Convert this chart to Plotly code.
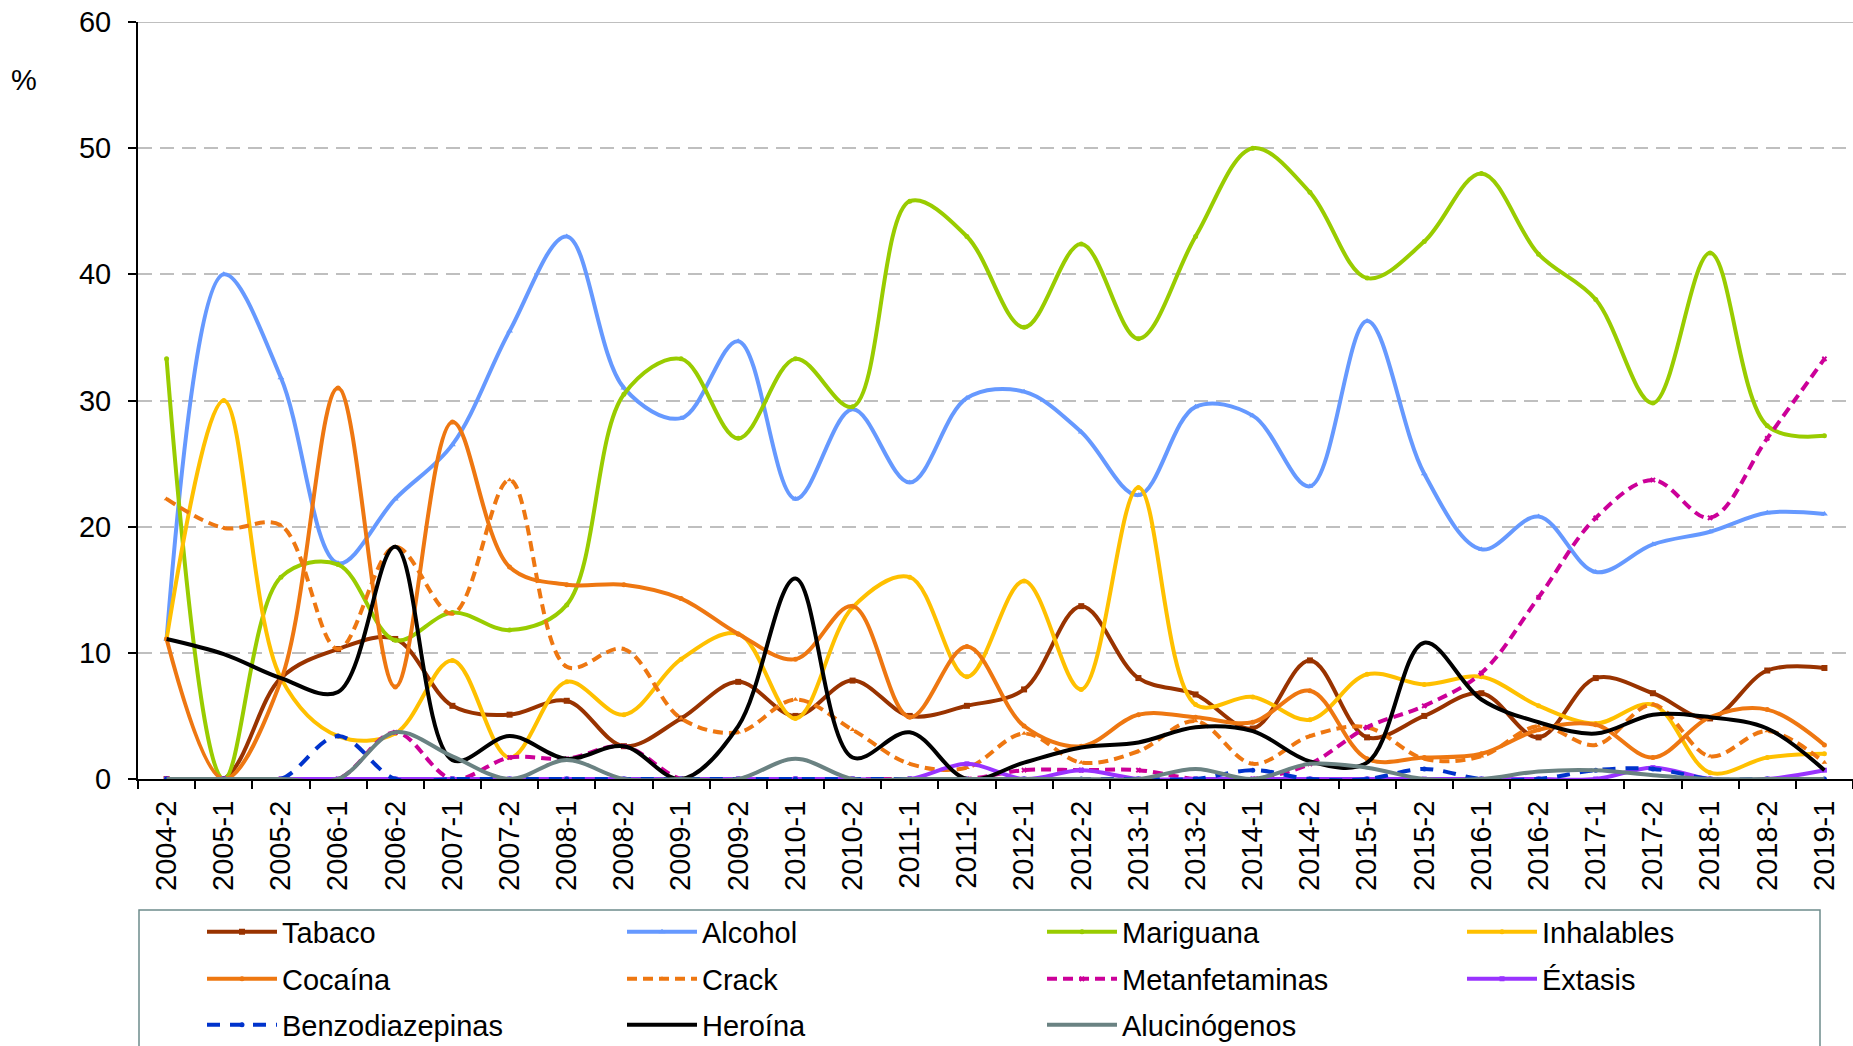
import plotly.graph_objects as go

categories = ["2004-2", "2005-1", "2005-2", "2006-1", "2006-2", "2007-1", "2007-2", "2008-1",
              "2008-2", "2009-1", "2009-2", "2010-1", "2010-2", "2011-1", "2011-2", "2012-1",
              "2012-2", "2013-1", "2013-2", "2014-1", "2014-2", "2015-1", "2015-2", "2016-1",
              "2016-2", "2017-1", "2017-2", "2018-1", "2018-2", "2019-1"]

tabaco = [0, 0, 8.0, 10.3, 11.1, 5.8, 5.1, 6.2, 2.6, 4.8, 7.7, 5.0, 7.8, 5.0, 5.8, 7.1,
          13.7, 8.0, 6.7, 4.0, 9.4, 3.3, 5.0, 6.8, 3.3, 8.0, 6.8, 4.8, 8.6, 8.8]
alcohol = [11.1, 40.0, 31.8, 17.1, 22.2, 26.5, 35.5, 43.0, 31.0, 28.6, 34.7, 22.2, 29.3, 23.5, 30.2, 30.7,
           27.5, 22.5, 29.5, 28.8, 23.2, 36.3, 24.2, 18.2, 20.8, 16.4, 18.6, 19.6, 21.1, 21.0]
mariguana = [33.3, 0, 16.0, 17.0, 11.0, 13.2, 11.8, 13.8, 30.5, 33.3, 27.0, 33.3, 29.5, 45.8, 43.0, 35.8,
             42.4, 34.9, 43.0, 50.0, 46.5, 39.7, 42.6, 48.0, 41.6, 38.0, 29.8, 41.7, 28.0, 27.2]
inhalables = [11.1, 30.0, 8.0, 3.4, 3.6, 9.4, 1.7, 7.7, 5.1, 9.5, 11.5, 4.8, 13.6, 16.0, 8.1, 15.7,
              7.1, 23.1, 5.9, 6.5, 4.7, 8.3, 7.5, 8.1, 5.8, 4.4, 5.9, 0.5, 1.7, 2.0]
cocaina = [11.1, 0, 7.8, 31.0, 7.3, 28.3, 16.8, 15.4, 15.4, 14.3, 11.5, 9.5, 13.7, 4.9, 10.5, 4.2,
           2.6, 5.1, 4.9, 4.5, 7.0, 1.6, 1.7, 2.0, 3.9, 4.3, 1.7, 4.9, 5.5, 2.7]
crack = [22.2, 19.9, 20.1, 10.3, 18.4, 13.1, 23.7, 8.9, 10.3, 4.8, 3.7, 6.3, 3.9, 1.2, 0.9, 3.6,
         1.3, 2.2, 4.6, 1.2, 3.4, 4.1, 1.6, 1.8, 4.2, 2.7, 5.9, 1.8, 3.8, 1.3]
metanfetaminas = [0, 0, 0, 0, 3.7, 0, 1.7, 1.6, 2.6, 0, 0, 0, 0, 0, 0, 0.7,
                  0.7, 0.7, 0, 0, 1.2, 4.1, 5.8, 8.4, 14.4, 20.7, 23.7, 20.7, 27.0, 33.3]
extasis = [0, 0, 0, 0, 0, 0, 0, 0, 0, 0, 0, 0, 0, 0, 1.2, 0,
           0.7, 0, 0, 0, 0, 0, 0, 0, 0, 0, 0.9, 0, 0, 0.7]
benzodiazepinas = [0, 0, 0, 3.4, 0, 0, 0, 0, 0, 0, 0, 0, 0, 0, 0, 0,
                   0, 0, 0, 0.7, 0, 0, 0.8, 0, 0, 0.7, 0.8, 0, 0, 0]
heroina = [11.1, 9.9, 8.0, 6.9, 18.4, 1.5, 3.4, 1.6, 2.6, 0, 4.2, 15.9, 1.7, 3.7, 0, 1.3,
           2.5, 2.9, 4.1, 3.8, 1.4, 1.3, 10.8, 6.3, 4.5, 3.6, 5.1, 4.9, 4.0, 0.7]
alucinogenos = [0, 0, 0, 0, 3.7, 1.8, 0, 1.5, 0, 0, 0, 1.6, 0, 0, 0, 0,
                0, 0, 0.8, 0, 1.2, 0.9, 0, 0, 0.6, 0.7, 0.3, 0, 0, 0]

y_ticks = [0, 10, 20, 30, 40, 50, 60]

# name, values, color, dash, marker symbol, marker size, legend row
series = [
    ("Tabaco", tabaco, "#993300", "solid", "square", 6, "legend"),
    ("Alcohol", alcohol, "#6699FF", "solid", "triangle-up", 6, "legend"),
    ("Mariguana", mariguana, "#99CC00", "solid", "circle", 5, "legend"),
    ("Inhalables", inhalables, "#FFC000", "solid", "circle", 5, "legend"),
    ("Cocaína", cocaina, "#EE7711", "solid", "circle", 5, "legend2"),
    ("Crack", crack, "#EE7711", "10px,6px", "triangle-up", 5, "legend2"),
    ("Metanfetaminas", metanfetaminas, "#CC0099", "10px,6px", "x", 5, "legend2"),
    ("Éxtasis", extasis, "#9933FF", "solid", "square", 5, "legend2"),
    ("Benzodiazepinas", benzodiazepinas, "#0033CC", "13px,10px", "circle", 5, "legend3"),
    ("Heroína", heroina, "#000000", "solid", None, 0, "legend3"),
    ("Alucinógenos", alucinogenos, "#6A8282", "solid", None, 0, "legend3"),
]

FONT = "Arial, 'Liberation Sans', sans-serif"
FS = 29

fig = go.Figure()
for name, vals, color, dash, sym, size, lg in series:
    kw = dict(x=categories, y=vals, name=name, legend=lg,
              line=dict(color=color, width=4, dash=dash, shape="spline", smoothing=1.0))
    if sym:
        kw["mode"] = "lines+markers"
        kw["marker"] = dict(symbol=sym, size=size, color=color, line=dict(width=0))
    else:
        kw["mode"] = "lines"
    fig.add_trace(go.Scatter(**kw))

PLOT_L, PLOT_W, Y0_PX, PLOT_H = 138, 1715, 779, 757


def px_x(p):
    return (p - PLOT_L) / PLOT_W


def px_y(p):
    return (Y0_PX - p) / PLOT_H


def legend_row(center_px):
    return dict(orientation="h", x=px_x(202), y=px_y(center_px), xanchor="left", yanchor="middle",
                entrywidth=335, entrywidthmode="pixels", itemwidth=70,
                font=dict(family=FONT, size=FS, color="black"),
                bgcolor="rgba(0,0,0,0)", borderwidth=0)


fig.update_layout(
    width=1853, height=1046,
    margin=dict(l=PLOT_L, r=0, t=22, b=1046 - Y0_PX, autoexpand=False),
    paper_bgcolor="white", plot_bgcolor="white",
    font=dict(family=FONT, size=FS, color="black"),
    showlegend=True,
    legend=legend_row(932),
    legend2=legend_row(979),
    legend3=legend_row(1025),
    xaxis=dict(type="category", range=[-0.5, 29.5], tickangle=-90,
               showline=True, linecolor="black", linewidth=2,
               ticks="outside", tickson="boundaries", ticklen=8, tickwidth=2, tickcolor="black",
               showgrid=False, tickfont=dict(size=FS), ticklabelstandoff=8, automargin=False),
    yaxis=dict(range=[0, 60], tickvals=y_ticks, ticks="outside", ticklen=8, tickwidth=2,
               tickcolor="black", showline=True, linecolor="black", linewidth=2,
               showgrid=True, gridcolor="#BFBFBF", gridwidth=2, griddash="14px,8px",
               zeroline=False, tickfont=dict(size=FS), ticklabelstandoff=11, automargin=False),
    shapes=[
        dict(type="line", xref="paper", yref="y", x0=0, x1=1, y0=60, y1=60,
             line=dict(color="#BFBFBF", width=2), layer="below"),
        dict(type="rect", xref="paper", yref="paper",
             x0=px_x(139), x1=px_x(1820), y0=px_y(1060), y1=px_y(910),
             line=dict(color="#6E8C8C", width=1.5), fillcolor="rgba(0,0,0,0)"),
    ],
    annotations=[
        dict(text="%", xref="paper", yref="paper", x=px_x(24), y=px_y(80),
             showarrow=False, font=dict(size=FS), xanchor="center", yanchor="middle"),
    ],
)

fig.write_html("out.html", config={"displayModeBar": False},
               post_script="document.body.style.margin='0';document.body.style.overflow='hidden';")
